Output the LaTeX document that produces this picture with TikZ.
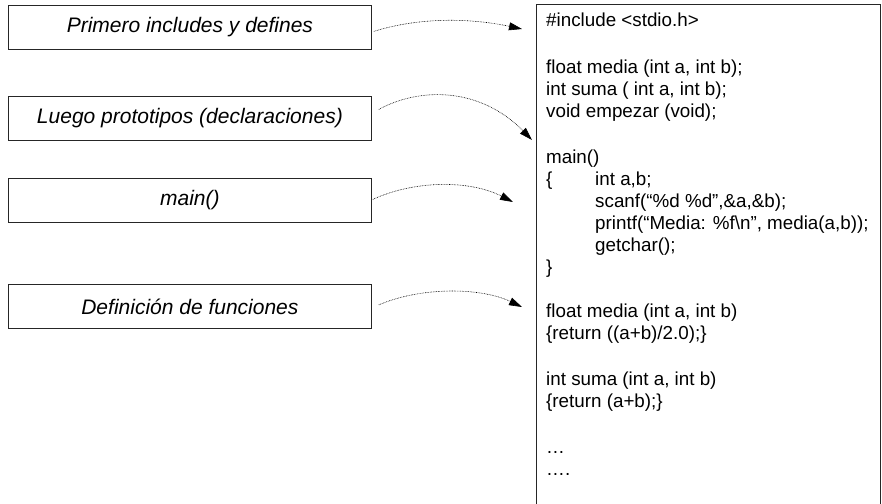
\documentclass[tikz,border=0pt]{standalone}
\usepackage{fontspec}
\setmainfont{Liberation Sans}
\usetikzlibrary{arrows.meta}
\begin{document}
\begin{tikzpicture}[x=1pt,y=-1pt,
  label box/.style={draw=black!85, line width=0.8pt, minimum width=363pt,
    minimum height=44pt, inner sep=0pt, anchor=north west,
    font=\fontsize{21}{25}\selectfont\itshape},
  code line/.style={anchor=base west, inner sep=0pt,
    font=\fontsize{18.8}{22}\selectfont},
  link/.style={line width=0.6pt, dash pattern=on 0.7pt off 0.9pt,
    -{Triangle[length=13pt,width=8pt]}}]
\useasboundingbox (0,0) rectangle (882,503);
\clip (0,0) rectangle (882,503);

% section labels on the left
\node[label box] (b1) at (8,5)   {Primero includes y defines};
\node[label box] (b2) at (8,96)  {Luego prototipos (declaraciones)};
\node[label box] (b3) at (8,178) {main()};
\node[label box] (b4) at (8,284) {Definición de funciones};

% program listing
\node[draw=black!85, line width=0.8pt, anchor=north west, minimum width=344pt,
  minimum height=530pt] (code) at (536,4) {};
\node[code line] (l1)  at (546,27)  {\#include <stdio.h>};
\node[code line] (l2)  at (546,73)  {float media (int a, int b);};
\node[code line] (l3)  at (546,95)  {int suma ( int a, int b);};
\node[code line] (l4)  at (546,117) {void empezar (void);};
\node[code line] (l5)  at (546,163) {main()};
\node[code line] (l6)  at (546,185) {\{};
\node[code line] (l7)  at (595,185) {int a,b;};
\node[code line] (l8)  at (595,207) {scanf(“\%d \%d”,\&a,\&b);};
\node[code line] (l9)  at (595,229) {printf(“Media: \%f\textbackslash n”, media(a,b));};
\node[code line] (l10) at (595,251) {getchar();};
\node[code line] (l11) at (546,273) {\}};
\node[code line] (l12) at (546,317) {float media (int a, int b)};
\node[code line] (l13) at (546,339) {\{return ((a+b)/2.0);\}};
\node[code line] (l14) at (546,385) {int suma (int a, int b)};
\node[code line] (l15) at (546,407) {\{return (a+b);\}};
\node[code line] (l16) at (546,453) {…};
\node[code line] (l17) at (546,475) {….};

% arrow tips
\coordinate (t1) at (522,29);
\coordinate (t2) at (532,140);
\coordinate (t3) at (513,202);
\coordinate (t4) at (522,307);

% curved dotted connectors
\draw[link] ([xshift=2pt,yshift=-4pt]b1.east) .. controls (420,17) and (470,18) .. (t1);
\draw[link] ([xshift=7pt,yshift=9pt]b2.east) .. controls (420,87) and (480,87) .. (t2);
\draw[link] ([xshift=1pt,yshift=1pt]b3.east) .. controls (415,180) and (470,180) .. (t3);
\draw[link] ([xshift=7pt,yshift=1.5pt]b4.east) .. controls (420,287) and (480,287) .. (t4);
\end{tikzpicture}
\end{document}
